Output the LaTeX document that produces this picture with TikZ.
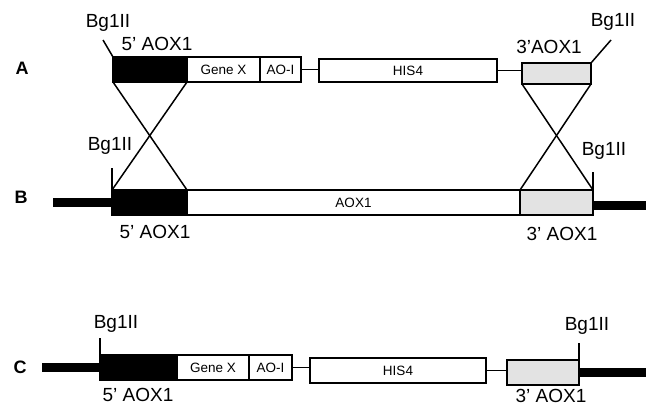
\documentclass[tikz,border=0pt]{standalone}
\usepackage{fontspec}
\setmainfont{Liberation Sans}
\begin{document}
\begin{tikzpicture}[x=1pt,y=-1pt,
  seg/.style={draw=black,line width=1.6pt,inner sep=0pt,outer sep=0pt,anchor=center,font=\fontsize{13.5}{13.5}\selectfont},
  blk/.style={seg,fill=black},
  wht/.style={seg,fill=white},
  gry/.style={seg,fill=gray!22},
  big/.style={font=\fontsize{19}{19}\selectfont,inner sep=0pt},
  row/.style={font=\bfseries\fontsize{18}{18}\selectfont,inner sep=0pt},
  thin/.style={line width=1.5pt},
  thick9/.style={line width=9pt},
]
\useasboundingbox[fill=white] (0,0) rectangle (646,407);

% Row A
\node[blk,minimum width=74pt,minimum height=25pt] (a5) at (150,69.5) {};
\node[wht,minimum width=73pt,minimum height=25pt] (agx) at (223.5,69.5) {Gene X};
\node[wht,minimum width=41pt,minimum height=25pt] (aao) at (280.5,69.5) {AO-I};
\node[wht,minimum width=178pt,minimum height=23pt] (ahis) at (408,70.5) {HIS4};
\node[gry,minimum width=69pt,minimum height=21pt] (a3) at (556.5,73.5) {};
\draw[thin] (aao.east) -- (aao.east -| ahis.west);
\draw[thin] (ahis.east) -- (ahis.east -| a3.west);
\coordinate (atl) at (103,40);
\coordinate (atr) at (611,40);
\draw[thin] (atl) -- (a5.north west);
\draw[thin] (atr) -- (a3.north east);
\node[row] (lA) at (22,68) {A};
\node[big] (bgA1) at (108,23) {Bg1II};
\node[big] (bgA2) at (613,22) {Bg1II};
\node[big] (tA5) at (157,44) {5' AOX1};
\node[big] (tA3) at (549,47) {3'AOX1};

% Row B
\coordinate (bl) at (53,202.5);
\coordinate (br) at (646,205);
\draw[thick9] (bl) -- (bl -| 112,0);
\node[blk,minimum width=75pt,minimum height=25pt] (b5) at (149.5,202.5) {};
\node[wht,minimum width=333pt,minimum height=25pt] (baox) at (353.5,202.5) {AOX1};
\node[gry,minimum width=73pt,minimum height=25pt] (b3) at (556.5,202.5) {};
\draw[thick9] (b3.east |- br) -- (br);
\coordinate (btl) at (112,168);
\coordinate (btr) at (593,172);
\draw[thin] (btl) -- (b5.north west);
\draw[thin] (btr) -- (b3.north east);
\node[row] (lB) at (21,197) {B};
\node[big] (bgB1) at (110,146) {Bg1II};
\node[big] (bgB2) at (604,151) {Bg1II};
\node[big] (tB5) at (155,232) {5' AOX1};
\node[big] (tB3) at (562,234) {3' AOX1};

% crossovers
\draw[thin] (a5.south west) -- (b5.north east);
\draw[thin] (a5.south east) -- (b5.north west);
\draw[thin] (a3.south west) -- (b3.north east);
\draw[thin] (a3.south east) -- (b3.north west);

% Row C
\coordinate (cl) at (42,367);
\coordinate (cr) at (646,372);
\draw[thick9] (cl) -- (cl -| 100,0);
\node[blk,minimum width=77pt,minimum height=25pt] (c5) at (138.5,367.5) {};
\node[wht,minimum width=72pt,minimum height=25pt] (cgx) at (213,367.5) {Gene X};
\node[wht,minimum width=43pt,minimum height=25pt] (cao) at (270.5,367.5) {AO-I};
\node[wht,minimum width=176pt,minimum height=25pt] (chis) at (398,370.5) {HIS4};
\node[gry,minimum width=72pt,minimum height=25pt] (c3) at (543,372.5) {};
\draw[thin] (cao.east) -- (cao.east -| chis.west);
\draw[thin] (chis.east) -- (chis.east -| c3.west);
\draw[thick9] (c3.east |- cr) -- (cr);
\coordinate (ctl) at (100,338);
\coordinate (ctr) at (579,343);
\draw[thin] (ctl) -- (c5.north west);
\draw[thin] (ctr) -- (c3.north east);
\node[row] (lC) at (20,367) {C};
\node[big] (bgC1) at (116,324) {Bg1II};
\node[big] (bgC2) at (587,326) {Bg1II};
\node[big] (tC5) at (138,395) {5' AOX1};
\node[big] (tC3) at (551,396) {3' AOX1};
\end{tikzpicture}
\end{document}
